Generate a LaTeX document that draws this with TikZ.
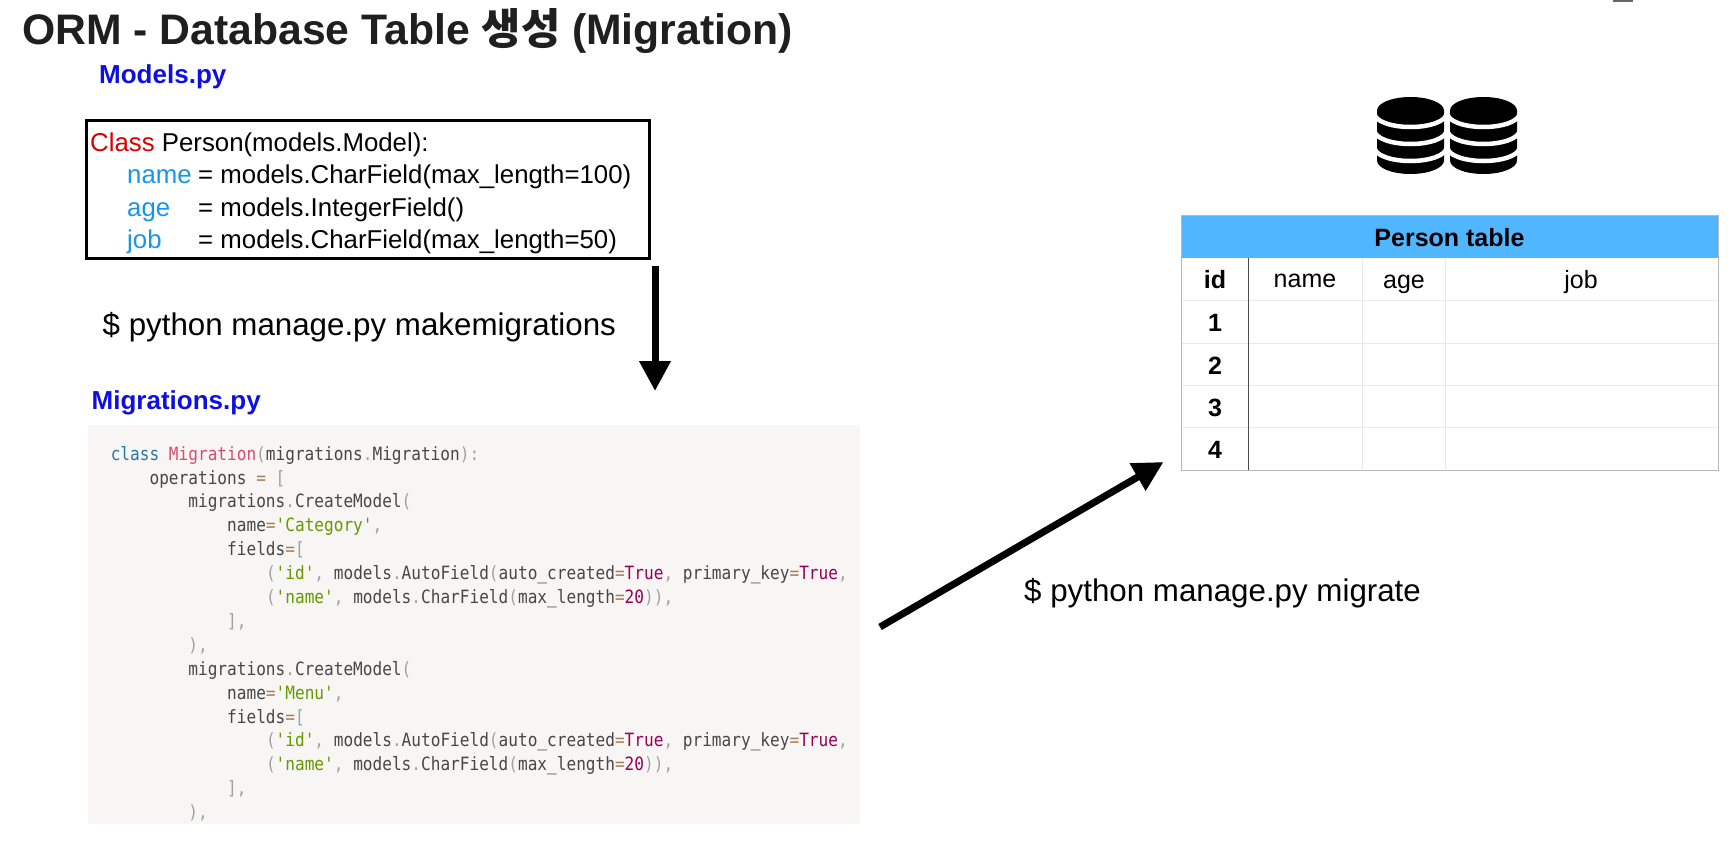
\documentclass[tikz,border=0pt]{standalone}
\usepackage{fontspec}
\setmainfont{Liberation Sans}
\newfontfamily\krfont{Noto Sans CJK KR}
\newfontfamily\codefont[FakeStretch=0.88]{DejaVu Sans Mono}
\usetikzlibrary{arrows.meta}
\definecolor{headblue}{HTML}{4FB6FF}
\definecolor{pyblue}{HTML}{0F0FE0}
\definecolor{panelgray}{HTML}{F7F6F5}
\definecolor{keyblue}{HTML}{1A94E8}
\definecolor{codekw}{HTML}{2B75A0}
\definecolor{codecls}{HTML}{DD4A68}
\definecolor{codestr}{HTML}{669900}
\definecolor{codeop}{HTML}{A67F59}
\definecolor{codepn}{HTML}{A0A0A0}
\definecolor{codenum}{HTML}{990055}
\newcommand\pyk[1]{\textcolor{codekw}{#1}}
\newcommand\pyc[1]{\textcolor{codecls}{#1}}
\newcommand\pys[1]{\textcolor{codestr}{#1}}
\newcommand\pyo[1]{\textcolor{codeop}{#1}}
\newcommand\pyp[1]{\textcolor{codepn}{#1}}
\newcommand\pyn[1]{\textcolor{codenum}{#1}}
\newcommand\fieldkey[1]{\makebox[71pt][l]{\textcolor{keyblue}{#1}}}
\tikzset{
  filelabel/.style={anchor=base west,inner sep=0pt,text=pyblue,font=\fontsize{26}{30}\selectfont\bfseries},
  modelline/.style={anchor=base west,inner sep=0pt,font=\fontsize{25.8}{30}\selectfont},
  command/.style={anchor=base west,inner sep=0pt,font=\fontsize{31.3}{36}\selectfont},
  codeline/.style={anchor=base west,inner sep=0pt,text=black!72,font=\fontsize{18.3}{22}\codefont},
  bigarrow/.style={line width=7pt,-{Triangle[length=30pt,width=30pt]}},
  cellplain/.style={anchor=base,inner sep=0pt,font=\fontsize{25}{30}\selectfont},
  cellbold/.style={anchor=base,inner sep=0pt,font=\fontsize{25}{30}\selectfont\bfseries},
  gridline/.style={line width=1pt,draw=black!9},
}
\begin{document}
\begin{tikzpicture}[x=1pt,y=-1pt]
\useasboundingbox (0,0) rectangle (1731,841);
\fill[black!60] (1613,0) rectangle (1633,2);
\node[anchor=base west,inner sep=0pt,text=black!88,font=\fontsize{42.7}{48}\selectfont\bfseries] (title) at (22,44) {ORM - Database Table {\krfont 생성} (Migration)};
% model file
\node[filelabel] (modelsname) at (99,83) {Models.py};
\node[draw,line width=3pt,anchor=north west,inner sep=0pt,minimum width=563pt,minimum height=138pt] (modelbox) at (85,119) {};
\node[modelline] (line1) at (90,151) {\textcolor{red!85!black}{Class} Person(models.Model):};
\node[modelline] (line2) at (127,183) {\fieldkey{name}= models.CharField(max\_length=100)};
\node[modelline] (line3) at (127,216) {\fieldkey{age}= models.IntegerField()};
\node[modelline] (line4) at (127,248) {\fieldkey{job}= models.CharField(max\_length=50)};
\coordinate (makefrom) at (655,266); \coordinate (maketo) at (655,391);
\draw[bigarrow] (makefrom)--(maketo);
\node[command] (makecmd) at (102.5,335) {\$ python manage.py makemigrations};
% migration file
\node[filelabel] (migname) at (91.5,409) {Migrations.py};
\node[fill=panelgray,anchor=north west,inner sep=0pt,minimum width=772pt,minimum height=399pt] (migpanel) at (88,425) {};
\node[codeline] (mig1) at (110.6,460) {\pyk{class} \pyc{Migration}\pyp{(}migrations\pyp{.}Migration\pyp{):}};
\node[codeline] (mig2) at (149.4,484) {operations \pyo{=} \pyp{[}};
\node[codeline] (mig3) at (188.2,507.9) {migrations\pyp{.}CreateModel\pyp{(}};
\node[codeline] (mig4) at (227,531.8) {name\pyo{=}\pys{'Category'}\pyp{,}};
\node[codeline] (mig5) at (227,555.7) {fields\pyo{=}\pyp{[}};
\node[codeline] (mig6) at (265.8,579.6) {\pyp{(}\pys{'id'}\pyp{,} models\pyp{.}AutoField\pyp{(}auto\_created\pyo{=}\pyn{True}\pyp{,} primary\_key\pyo{=}\pyn{True}\pyp{,}};
\node[codeline] (mig7) at (265.8,603.5) {\pyp{(}\pys{'name'}\pyp{,} models\pyp{.}CharField\pyp{(}max\_length\pyo{=}\pyn{20}\pyp{)),}};
\node[codeline] (mig8) at (227,627.4) {\pyp{],}};
\node[codeline] (mig9) at (188.2,651.3) {\pyp{),}};
\node[codeline] (mig10) at (188.2,675.2) {migrations\pyp{.}CreateModel\pyp{(}};
\node[codeline] (mig11) at (227,699.1) {name\pyo{=}\pys{'Menu'}\pyp{,}};
\node[codeline] (mig12) at (227,723) {fields\pyo{=}\pyp{[}};
\node[codeline] (mig13) at (265.8,746.9) {\pyp{(}\pys{'id'}\pyp{,} models\pyp{.}AutoField\pyp{(}auto\_created\pyo{=}\pyn{True}\pyp{,} primary\_key\pyo{=}\pyn{True}\pyp{,}};
\node[codeline] (mig14) at (265.8,770.8) {\pyp{(}\pys{'name'}\pyp{,} models\pyp{.}CharField\pyp{(}max\_length\pyo{=}\pyn{20}\pyp{)),}};
\node[codeline] (mig15) at (227,794.7) {\pyp{],}};
\node[codeline] (mig16) at (188.2,818.6) {\pyp{),}};
\coordinate (migfrom) at (880,627); \coordinate (migto) at (1163.5,462);
\draw[bigarrow] (migfrom)--(migto);
\node[command] (migcmd) at (1024,601) {\$ python manage.py migrate};
% database icon
\foreach \cx in {1410.5,1483.5} {
  \fill (\cx-33.5,110.5) -- (\cx-33.5,160.5) arc[start angle=180,end angle=360,x radius=33.5pt,y radius=13.5pt] -- (\cx+33.5,110.5) -- cycle;
  \foreach \gy in {113.5,130.5,147.5}
    \draw[white,line width=4.5pt] (\cx-36,\gy) arc[start angle=180,end angle=360,x radius=36pt,y radius=13.5pt];
  \fill (\cx,110.5) ellipse [x radius=33.5pt,y radius=13.5pt];
}
% table
\node[fill=headblue,anchor=north west,inner sep=0pt,minimum width=537pt,minimum height=43pt] (tablehead) at (1181,215) {};
\foreach \ry in {300,343,385,427}
  \draw[gridline] (1181,\ry) -- (1718,\ry);
\foreach \cx in {1362,1445.5}
  \draw[gridline] (\cx,258) -- (\cx,470);
\draw[line width=0.8pt,black!70] (1248,258) -- (1248,470);
\draw[line width=1pt,black!28] (1181,215) rectangle (1718,470);
\node[cellbold] (tabletitle) at (1449.5,246) {Person table};
\node[cellbold] (idhead) at (1215,288) {id};
\node[cellplain] (namehead) at (1305,287) {name};
\node[cellplain] (agehead) at (1404,288.5) {age};
\node[cellplain] (jobhead) at (1581,288.5) {job};
\node[cellbold] (row1) at (1215,331) {1};
\node[cellbold] (row2) at (1215,374) {2};
\node[cellbold] (row3) at (1215,416) {3};
\node[cellbold] (row4) at (1215,458) {4};
\end{tikzpicture}
\end{document}
